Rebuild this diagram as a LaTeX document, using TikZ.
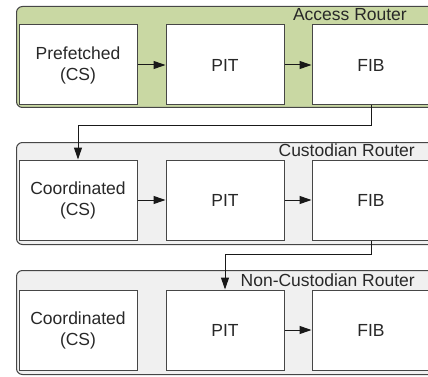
\documentclass[tikz,border=0pt]{standalone}
\usepackage{fontspec}
\setmainfont{Liberation Sans}
\usetikzlibrary{arrows.meta}
\definecolor{routergreen}{RGB}{201,216,163}
\definecolor{routergray}{RGB}{240,240,240}
\definecolor{edge}{RGB}{70,70,70}
\definecolor{linkcol}{RGB}{25,25,25}
\definecolor{txt}{RGB}{40,40,40}
\begin{document}
\begin{tikzpicture}[x=1pt,y=-1pt,
  box/.style={draw=edge, fill=white, minimum width=118pt, minimum height=80pt, align=center,
    font=\fontsize{17.5}{21}\selectfont, text=txt, inner sep=0pt, line width=1pt},
  container/.style={draw=edge, rounded corners=6pt, line width=1pt, inner sep=0pt,
    minimum width=424pt, anchor=north west},
  title/.style={font=\fontsize{17.5}{21}\selectfont, text=txt, anchor=base east, inner sep=0pt},
  link/.style={-{Triangle[length=12pt,width=8pt]}, draw=linkcol, line width=1pt}]
\useasboundingbox (0,0) rectangle (428,377);
\clip (0,0) rectangle (428,377);
% Access Router
\node[container, fill=routergreen, minimum height=101pt] (ar) at (16,6) {};
\node[title] (art) at (407,21) {Access Router};
\node[box] (cs1) at (78,65) {Prefetched\\(CS)};
\node[box] (pit1) at (225,65) {PIT};
\node[box] (fib1) at (371,65) {FIB};
% Custodian Router
\node[container, fill=routergray, minimum height=102pt] (cr) at (16,142) {};
\node[title] (crt) at (415,157) {Custodian Router};
\node[box] (cs2) at (78,200) {Coordinated\\(CS)};
\node[box] (pit2) at (225,200) {PIT};
\node[box] (fib2) at (371,200) {FIB};
% Non-Custodian Router
\node[container, fill=routergray, minimum height=104pt] (nr) at (16,270) {};
\node[title] (nrt) at (415,286) {Non-Custodian Router};
\node[box] (cs3) at (78,330) {Coordinated\\(CS)};
\node[box] (pit3) at (225,330) {PIT};
\node[box] (fib3) at (371,330) {FIB};
% connectors
\draw[link] (cs1) -- (pit1);
\draw[link] (pit1) -- (fib1);
\draw[link] (cs2) -- (pit2);
\draw[link] (pit2) -- (fib2);
\draw[link] (pit3) -- (fib3);
\draw[link] (fib1.south) -- ++(0,20) -| (cs2.north);
\draw[link] (fib2.south) -- ++(0,14) -| (pit3.north);
\end{tikzpicture}
\end{document}
